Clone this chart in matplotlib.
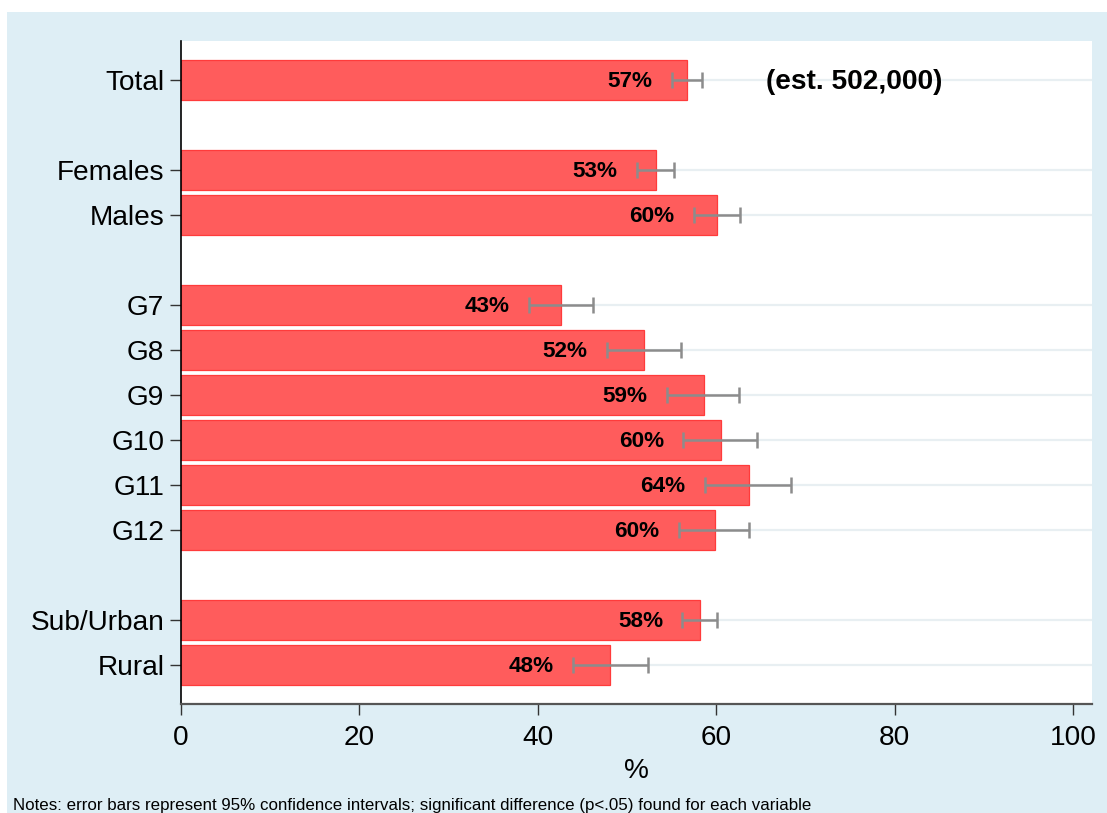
import matplotlib
matplotlib.use("Agg")
import matplotlib.pyplot as plt
from matplotlib.patches import Rectangle

plt.rcParams['font.family'] = ['Liberation Sans', 'DejaVu Sans']

# ---- data ----
groups = [["Total"], ["Females", "Males"], ["G7", "G8", "G9", "G10", "G11", "G12"], ["Sub/Urban", "Rural"]]
values = [56.7, 53.2, 60.1, 42.6, 51.9, 58.6, 60.5, 63.7, 59.8, 58.2, 48.1]
ci_low = [55.0, 51.1, 57.5, 39.0, 47.7, 54.5, 56.3, 58.7, 55.8, 56.2, 43.9]
ci_high = [58.4, 55.2, 62.6, 46.2, 56.0, 62.5, 64.6, 68.4, 63.7, 60.1, 52.3]
value_labels = ["57%", "53%", "60%", "43%", "52%", "59%", "60%", "64%", "60%", "58%", "48%"]
x_ticks = [0, 20, 40, 60, 80, 100]
note = "Notes: error bars represent 95% confidence intervals; significant difference (p<.05) found for each variable"
total_note = "(est. 502,000)"

# positions from group structure (one empty slot between groups)
categories = []
positions = []
pos = 0
for g in groups:
    for c in g:
        categories.append(c)
        positions.append(pos)
        pos += 1
    pos += 1

W, H = 1107, 813
fig = plt.figure(figsize=(W / 100, H / 100), dpi=100)
fig.patch.set_facecolor("white")
bg = "#deeef5"
fig.patches.append(Rectangle((7 / W, 0), 1 - 7 / W, 1 - 12 / H, transform=fig.transFigure,
                             facecolor=bg, edgecolor="none", zorder=-10))

ax = fig.add_axes([181 / W, 1 - 704 / H, (1092 - 181) / W, (704 - 41) / H])
ax.set_facecolor("white")

# gridlines at each category
for p in positions:
    ax.axhline(p, color="#e8eff2", lw=1.6, zorder=0)

ax.barh(positions, values, height=0.9, color="#ff5c5c", edgecolor="#ff3b3b", lw=0.9, zorder=2)

lo_err = [v - l for v, l in zip(values, ci_low)]
hi_err = [h - v for v, h in zip(values, ci_high)]
ax.errorbar(values, positions, xerr=[lo_err, hi_err], fmt="none", ecolor="#8c8c8c",
            elinewidth=1.8, capsize=5.5, capthick=1.8, zorder=3)

for p, l, lab in zip(positions, ci_low, value_labels):
    ax.annotate(lab, (l, p), xytext=(-14, -1.2), textcoords="offset points",
                ha="right", va="center", fontsize=16.2, fontweight="bold", zorder=4)

ax.text(65.6, positions[0] + 0.04, total_note, ha="left", va="center",
        fontsize=20.2, fontweight="bold", zorder=4)

ax.set_xlim(0, 102.1)
ax.set_ylim(positions[-1] + 0.867, positions[0] - 0.867)
ax.set_yticks(positions)
ax.set_yticklabels(categories, fontsize=20.2)
ax.set_xticks(x_ticks)
ax.set_xticklabels([str(t) for t in x_ticks], fontsize=20.2)
ax.tick_params(axis="y", length=8, width=1, color="#333333", pad=4)
ax.tick_params(axis="x", length=8, width=1, color="#333333", pad=7)
ax.set_xlabel("%", fontsize=20.2, labelpad=5)

for s in ["top", "right"]:
    ax.spines[s].set_visible(False)
ax.spines["left"].set_color("black")
ax.spines["left"].set_linewidth(1.2)
ax.spines["bottom"].set_color("#555555")
ax.spines["bottom"].set_linewidth(1.6)

fig.text(13 / W, 1 - 805 / H, note, ha="left", va="center", fontsize=12.2)

fig.savefig("out.png", dpi=100)
